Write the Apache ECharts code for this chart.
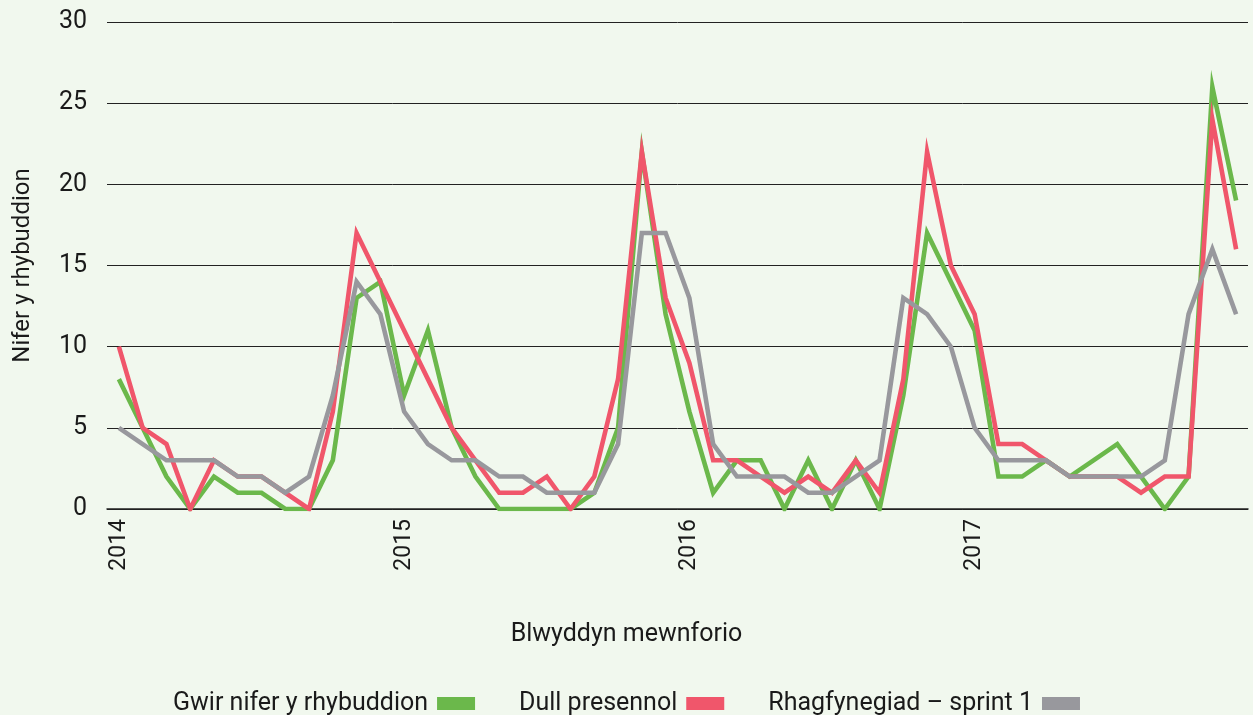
<!DOCTYPE html>
<html>
<head>
<meta charset="utf-8">
<script src="https://cdn.jsdelivr.net/npm/echarts@6/dist/echarts.min.js"></script>
<style>
html,body{margin:0;padding:0;background:#f1f8ee;}
#c{width:1253px;height:715px;}
</style>
</head>
<body>
<div id="c"></div>
<script>
const months = [];
for (let y = 2014; y <= 2017; y++) for (let m = 1; m <= 12; m++) months.push(y + '-' + (m < 10 ? '0' + m : m));

const seriesNames = ['Gwir nifer y rhybuddion', 'Dull presennol', 'Rhagfynegiad – sprint 1'];
const actual = [8,5,2,0,2,1,1,0,0,3,13,14, 7,11,5,2,0,0,0,0,1,5,22,12, 6,1,3,3,0,3,0,3,0,7,17,14, 11,2,2,3,2,3,4,2,0,2,26,19];
const current = [10,5,4,0,3,2,2,1,0,6,17,14, 11,8,5,3,1,1,2,0,2,8,22,13, 9,3,3,2,1,2,1,3,1,8,22,15, 12,4,4,3,2,2,2,1,2,2,24,16];
const sprint1 = [5,4,3,3,3,2,2,1,2,7,14,12, 6,4,3,3,2,2,1,1,1,4,17,17, 13,4,2,2,2,1,1,2,3,13,12,10, 5,3,3,3,2,2,2,2,3,12,16,12];
const yTicks = [0,5,10,15,20,25,30];
const colors = ['#6bb84b', '#f0566b', '#98989d'];

const font = 'Roboto, "DejaVu Sans", sans-serif';
const chart = echarts.init(document.getElementById('c'));
const mk = (name, data, i) => ({
  name, type: 'line', data, symbol: 'none', color: colors[i],
  lineStyle: { width: 4.6, color: colors[i], join: 'miter', miterLimit: 20 },
  itemStyle: { color: colors[i] }
});
chart.setOption({
  backgroundColor: '#f1f8ee',
  animation: false,
  textStyle: { fontFamily: font },
  title: {
    text: 'Blwyddyn mewnforio', left: 'center', top: 617,
    textStyle: { fontFamily: font, fontSize: 25, fontWeight: 'normal', color: '#1a1a1a' }
  },
  legend: {
    top: 686, left: 'center', align: 'right', itemWidth: 38, itemHeight: 13, itemGap: 44,
    icon: 'rect',
    textStyle: { fontFamily: font, fontSize: 25, color: '#1a1a1a', padding: [0, 4, 0, 0] },
    data: seriesNames
  },
  grid: { left: 107, right: 5, top: 22, bottom: 206 },
  xAxis: {
    type: 'category', data: months, boundaryGap: true,
    axisLine: { lineStyle: { color: '#222', width: 1.5 } },
    axisTick: { inside: true, length: 12, alignWithLabel: true, interval: 0, lineStyle: { color: '#222' } },
    axisLabel: {
      interval: 0, rotate: 90, margin: 10, fontSize: 23, color: '#1a1a1a', fontFamily: font,
      formatter: v => v.endsWith('-01') ? v.slice(0, 4) : ''
    }
  },
  yAxis: {
    type: 'value', min: yTicks[0], max: yTicks[yTicks.length - 1], interval: 5,
    name: 'Nifer y rhybuddion', nameLocation: 'middle', nameGap: 72,
    nameTextStyle: { fontSize: 24, color: '#1a1a1a', fontFamily: font },
    axisLine: { show: false }, axisTick: { show: false },
    axisLabel: { fontSize: 25, color: '#1a1a1a', margin: 20, fontFamily: font },
    splitLine: { lineStyle: { color: '#222', width: 1 } }
  },
  series: [mk(seriesNames[0], actual, 0), mk(seriesNames[1], current, 1), mk(seriesNames[2], sprint1, 2)]
});
</script>
</body>
</html>
